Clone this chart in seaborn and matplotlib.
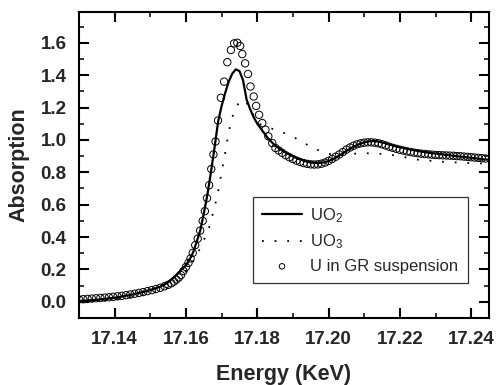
import numpy as np
import pandas as pd
import matplotlib
matplotlib.use("Agg")
import matplotlib.pyplot as plt
import seaborn as sns
from matplotlib.ticker import MultipleLocator, FormatStrFormatter

# ---- data ----
uo2_e = [17.130, 17.135, 17.140, 17.145, 17.150, 17.153, 17.155, 17.157, 17.159, 17.160,
         17.161, 17.162, 17.163, 17.164, 17.165, 17.166, 17.167, 17.168, 17.169, 17.170,
         17.171, 17.172, 17.173, 17.174, 17.175, 17.176, 17.177, 17.178, 17.179, 17.180,
         17.181, 17.182, 17.183, 17.185, 17.187, 17.189, 17.191, 17.193, 17.195, 17.197,
         17.199, 17.201, 17.203, 17.205, 17.207, 17.209, 17.211, 17.213, 17.215, 17.217,
         17.219, 17.221, 17.223, 17.226, 17.229, 17.232, 17.235, 17.238, 17.241, 17.245]
uo2_a = [0.005, 0.012, 0.025, 0.045, 0.072, 0.095, 0.120, 0.160, 0.205, 0.225,
         0.260, 0.305, 0.370, 0.440, 0.545, 0.660, 0.800, 0.950, 1.110, 1.210,
         1.290, 1.360, 1.410, 1.436, 1.425, 1.370, 1.250, 1.190, 1.140, 1.100,
         1.070, 1.040, 1.010, 0.965, 0.935, 0.910, 0.888, 0.872, 0.860, 0.856,
         0.862, 0.878, 0.903, 0.932, 0.958, 0.978, 0.990, 0.993, 0.985, 0.972,
         0.960, 0.950, 0.940, 0.928, 0.918, 0.910, 0.902, 0.895, 0.887, 0.877]

uo3_e = [17.130, 17.135, 17.140, 17.145, 17.150, 17.153, 17.155, 17.157, 17.159, 17.161,
         17.163, 17.165, 17.1665, 17.168, 17.169, 17.170, 17.171, 17.172, 17.173, 17.174,
         17.175, 17.176, 17.177, 17.178, 17.179, 17.180, 17.182, 17.184, 17.186, 17.188,
         17.190, 17.192, 17.194, 17.196, 17.198, 17.200, 17.202, 17.205, 17.210, 17.214,
         17.218, 17.221, 17.225, 17.230, 17.235, 17.240, 17.245]
uo3_a = [0.000, 0.006, 0.015, 0.030, 0.050, 0.070, 0.090, 0.120, 0.160, 0.215,
         0.285, 0.380, 0.460, 0.580, 0.680, 0.800, 0.920, 1.050, 1.140, 1.200,
         1.235, 1.248, 1.230, 1.190, 1.150, 1.110, 1.080, 1.070, 1.056, 1.038,
         1.020, 0.995, 0.970, 0.947, 0.928, 0.914, 0.908, 0.912, 0.918, 0.915,
         0.906, 0.895, 0.878, 0.868, 0.861, 0.857, 0.853]

gr_e = [17.1300, 17.1312, 17.1324, 17.1336, 17.1348, 17.1360, 17.1372, 17.1384, 17.1396, 17.1408,
        17.1420, 17.1432, 17.1444, 17.1456, 17.1468, 17.1480, 17.1492, 17.1504, 17.1516, 17.1528,
        17.1540, 17.1550, 17.1559, 17.1566, 17.1573, 17.1580, 17.1586, 17.1593, 17.1600, 17.1607,
        17.1613, 17.1619, 17.1626, 17.1633, 17.1640, 17.1647, 17.1653, 17.1659, 17.1665, 17.1671,
        17.1677, 17.1683, 17.1690, 17.1698, 17.1707, 17.1716, 17.1726, 17.1735, 17.1744, 17.1752,
        17.1758, 17.1766, 17.1774, 17.1781, 17.1790, 17.1797, 17.1805, 17.1814, 17.1823, 17.1831,
        17.1842, 17.1851, 17.186, 17.187, 17.188, 17.189, 17.190, 17.191, 17.192, 17.193,
        17.194, 17.195, 17.196, 17.197, 17.198, 17.199, 17.200, 17.201, 17.202, 17.203,
        17.204, 17.205, 17.206, 17.207, 17.208, 17.209, 17.210, 17.211, 17.212, 17.213,
        17.214, 17.215, 17.216, 17.217, 17.218, 17.219, 17.220, 17.221, 17.222, 17.223,
        17.224, 17.225, 17.226, 17.227, 17.228, 17.229, 17.230, 17.231, 17.232, 17.233,
        17.234, 17.235, 17.236, 17.237, 17.238, 17.239, 17.240, 17.241, 17.242, 17.243,
        17.244]
gr_a = [0.015, 0.016, 0.018, 0.020, 0.022, 0.024, 0.026, 0.028, 0.031, 0.034,
        0.037, 0.041, 0.045, 0.050, 0.055, 0.060, 0.066, 0.072, 0.079, 0.087,
        0.096, 0.105, 0.115, 0.125, 0.137, 0.150, 0.165, 0.190, 0.215, 0.240,
        0.268, 0.302, 0.350, 0.390, 0.440, 0.500, 0.560, 0.640, 0.720, 0.820,
        0.910, 0.990, 1.120, 1.260, 1.360, 1.480, 1.555, 1.596, 1.600, 1.580,
        1.530, 1.473, 1.407, 1.330, 1.268, 1.210, 1.155, 1.104, 1.063, 1.022,
        0.981, 0.950, 0.935, 0.920, 0.905, 0.893, 0.882, 0.872, 0.864, 0.857,
        0.852, 0.849, 0.848, 0.849, 0.853, 0.860, 0.870, 0.882, 0.896, 0.910,
        0.925, 0.940, 0.953, 0.964, 0.973, 0.979, 0.983, 0.985, 0.985, 0.983,
        0.979, 0.973, 0.966, 0.958, 0.951, 0.945, 0.939, 0.934, 0.929, 0.925,
        0.921, 0.918, 0.915, 0.913, 0.911, 0.909, 0.907, 0.906, 0.905, 0.904,
        0.903, 0.902, 0.900, 0.899, 0.897, 0.895, 0.893, 0.891, 0.889, 0.887,
        0.885]

labels = ["UO$_2$", "UO$_3$", "U in GR suspension"]
x_label = "Energy (KeV)"
y_label = "Absorption"

# ---- style ----
sns.set_theme(style="ticks")
plt.rcParams["font.family"] = ["Liberation Sans", "DejaVu Sans"]
plt.rcParams["mathtext.fontset"] = "custom"
plt.rcParams["mathtext.rm"] = "Liberation Sans"
plt.rcParams["mathtext.it"] = "Liberation Sans:italic"
plt.rcParams["mathtext.bf"] = "Liberation Sans:bold"

fig = plt.figure(figsize=(4.97, 3.85), dpi=100)
ax = fig.add_axes([79 / 497, 1 - 318 / 385, 410 / 497, 306 / 385])
ax.set_facecolor("white")

sns.lineplot(x=uo2_e, y=uo2_a, ax=ax, color="black", linewidth=1.6,
             label=labels[0], sort=False, estimator=None)
sns.lineplot(x=uo3_e, y=uo3_a, ax=ax, color="black", linewidth=1.3,
             linestyle=(0, (1, 6)), label=labels[1], sort=False, estimator=None)
sns.scatterplot(x=gr_e, y=gr_a, ax=ax, marker="o", s=28, facecolor="none",
                edgecolor="black", linewidth=0.7, label=labels[2], zorder=3)

ax.set_xlim(17.13, 17.245)
ax.set_ylim(-0.1, 1.79)
ax.xaxis.set_major_locator(MultipleLocator(0.02))
ax.xaxis.set_minor_locator(MultipleLocator(0.01))
ax.yaxis.set_major_locator(MultipleLocator(0.2))
ax.yaxis.set_minor_locator(MultipleLocator(0.1))
ax.xaxis.set_major_formatter(FormatStrFormatter("%.2f"))
ax.yaxis.set_major_formatter(FormatStrFormatter("%.1f"))

for sp in ax.spines.values():
    sp.set_linewidth(1.5)
    sp.set_color("black")
    sp.set_visible(True)
    sp.set_zorder(5)

ax.set_xlabel(x_label, fontsize=15.5, fontweight="bold", labelpad=12)
ax.set_ylabel(y_label, fontsize=15.5, fontweight="bold", labelpad=8)

leg = ax.legend(loc="upper left", bbox_to_anchor=(0.424, 0.395), borderaxespad=0,
                fontsize=12, frameon=True, fancybox=False, edgecolor="black",
                handlelength=2.4, handletextpad=0.5, labelspacing=0.45,
                borderpad=0.55, markerscale=0.75)
leg.get_frame().set_linewidth(0.9)

ax.tick_params(which="both", direction="in", top=True, right=True,
               color="black", width=1.5)
ax.tick_params(which="major", length=7.5, labelsize=13.5, pad=9)
ax.tick_params(which="minor", length=3.6, width=1.1)
for lab in ax.get_xticklabels() + ax.get_yticklabels():
    lab.set_fontweight("bold")

fig.savefig("out.png", dpi=100, facecolor="white")
